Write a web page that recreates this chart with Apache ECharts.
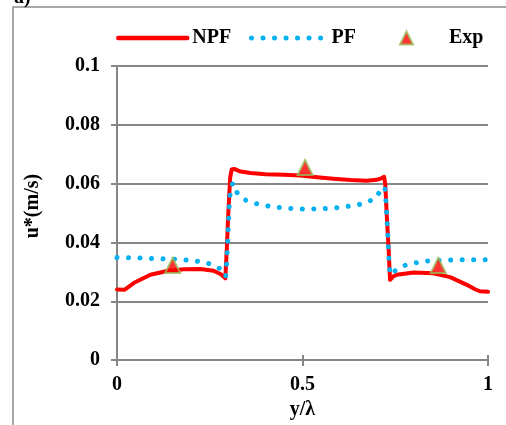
<!DOCTYPE html>
<html>
<head>
<meta charset="utf-8">
<script src="https://cdn.jsdelivr.net/npm/echarts@6/dist/echarts.min.js"></script>
<style>html,body{margin:0;padding:0;background:#fff}#c{width:506px;height:425px}</style>
</head>
<body>
<div id="c"></div>
<script>
var npfX = [0,0.02,0.045,0.09,0.135,0.18,0.225,0.26,0.28,0.292,0.296,0.300,0.305,0.309,0.316,0.333,0.36,0.40,0.45,0.493,0.547,0.583,0.63,0.673,0.70,0.712,0.72,0.723,0.727,0.732,0.736,0.745,0.754,0.8,0.853,0.898,0.943,0.965,0.978,1.0];
var npfY = [0.024,0.0239,0.0262,0.029,0.0303,0.0309,0.031,0.0304,0.0292,0.0278,0.038,0.050,0.062,0.0648,0.065,0.0641,0.0636,0.0632,0.063,0.0628,0.0621,0.0617,0.0612,0.061,0.0613,0.0618,0.0623,0.060,0.0496,0.038,0.0273,0.0285,0.029,0.0298,0.0295,0.0282,0.0256,0.0241,0.0234,0.0232];
var pfX = [0,0.03,0.07,0.1,0.13,0.16,0.188,0.217,0.248,0.276,0.293,0.296,0.300,0.303,0.306,0.312,0.325,0.347,0.376,0.406,0.436,0.465,0.495,0.525,0.555,0.585,0.615,0.646,0.675,0.70,0.713,0.722,0.726,0.73,0.733,0.736,0.752,0.778,0.806,0.836,0.867,0.898,0.927,0.957,0.987,1.0];
var pfY = [0.0349,0.0348,0.0347,0.0345,0.0344,0.0343,0.034,0.0336,0.0328,0.0312,0.0284,0.034,0.045,0.054,0.058,0.0602,0.0566,0.0544,0.0532,0.0524,0.0519,0.0516,0.0514,0.0514,0.0515,0.0517,0.0522,0.0527,0.0537,0.0554,0.0585,0.0588,0.052,0.042,0.034,0.029,0.0306,0.0323,0.0331,0.0337,0.0339,0.034,0.0341,0.0341,0.0341,0.0341];
var expX = [0.15,0.507,0.866];
var expY = [0.0322,0.0655,0.0322];
var xTicks = ['0','0.5','1'];
var yTicks = ['0','0.02','0.04','0.06','0.08','0.1'];

function pairs(xs, ys){ return xs.map(function(x,i){ return [x, ys[i]]; }); }

var FONT = 'Liberation Serif';
var gray = '#868686';
var chart = echarts.init(document.getElementById('c'), null, {renderer:'canvas'});
var txt = {fontFamily: FONT, fontWeight: 'bold', fontSize: 20, color: '#000'};
var dotStyle = {color:'#00b0f0', width:5, type:[0.01,11.5], cap:'round', join:'round'};

chart.setOption({
  animation: false,
  backgroundColor: '#fff',
  graphic: [
    {type:'rect', shape:{x:13, y:7, width:600, height:500}, style:{fill:'none', stroke:'#8c8c8c', lineWidth:1.5}, silent:true},
    {type:'text', left:14, top:-12, style:{text:'a)', font:'bold 20px "Liberation Serif"', fill:'#000'}}
  ],
  legend: [
    {data:['NPF'], left:111, top:23, itemWidth:69, itemHeight:14, textStyle:txt,
      itemStyle:{opacity:0}, lineStyle:{color:'#ff0000', width:4.5, cap:'round'}},
    {data:['PF'], left:244, top:23, itemWidth:75, itemHeight:14, textStyle:txt,
      itemStyle:{opacity:0}, lineStyle:dotStyle},
    {data:['Exp'], left:394, top:23, itemWidth:13, itemHeight:13, textStyle:Object.assign({padding:[0,0,0,31]}, txt)}
  ],
  grid: {left:117, right:18, top:66, bottom:60, containLabel:false},
  xAxis: [{
    type:'value', min:0, max:1, interval:0.5,
    name:'y/λ', nameLocation:'middle', nameGap:35, nameTextStyle:txt,
    axisLine:{show:true, lineStyle:{color:gray, width:2}},
    axisTick:{show:true, length:6, lineStyle:{color:gray, width:2}},
    axisLabel:{margin:15, fontFamily:FONT, fontWeight:'bold', fontSize:20, color:'#000',
      formatter:function(v){ var i=Math.round(v/0.5); return xTicks[i]; }},
    splitLine:{show:false}
  },{
    type:'value', min:0, max:1, interval:0.5, position:'bottom',
    axisLine:{show:false}, axisTick:{show:true, inside:true, length:5, lineStyle:{color:gray, width:2}},
    axisLabel:{show:false}, splitLine:{show:false}
  }],
  yAxis: {
    type:'value', min:0, max:0.1, interval:0.02,
    name:'u*(m/s)', nameLocation:'middle', nameGap:74, nameRotate:90,
    nameTextStyle:Object.assign({padding:[0,0,0,14]}, txt),
    axisLine:{show:true, lineStyle:{color:gray, width:2}},
    axisTick:{show:true, length:6, lineStyle:{color:gray, width:2}},
    axisLabel:{margin:17, fontFamily:FONT, fontWeight:'bold', fontSize:20, color:'#000',
      formatter:function(v){ var i=Math.round(v/0.02); return yTicks[i]; }},
    splitLine:{show:true, lineStyle:{color:gray, width:2}}
  },
  series: [
    {name:'NPF', type:'line', data:pairs(npfX,npfY), showSymbol:false, symbol:'none', z:3,
      itemStyle:{color:'#ff0000'}, lineStyle:{color:'#ff0000', width:4, cap:'round', join:'round'}},
    {name:'PF', type:'line', data:pairs(pfX,pfY), showSymbol:false, symbol:'none', z:4,
      itemStyle:{color:'#00b0f0'}, lineStyle:dotStyle},
    {name:'Exp', type:'scatter', data:pairs(expX,expY), symbol:'triangle', symbolSize:15, z:5,
      itemStyle:{color:'#ff0000', borderColor:'#9bbb59', borderWidth:2}}
  ]
});
</script>
</body>
</html>
